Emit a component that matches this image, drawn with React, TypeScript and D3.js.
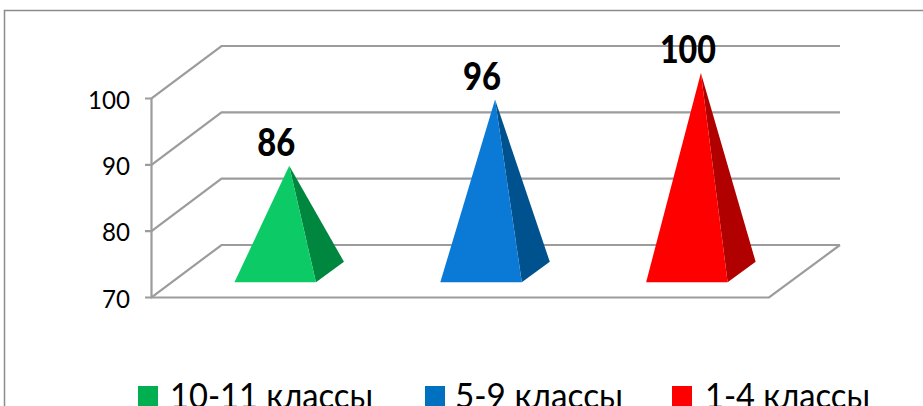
import React from "react";
import * as d3 from "d3";

const categories = ["10-11 классы", "5-9 классы", "1-4 классы"];
const values = [86, 96, 100];
const ticks = [70, 80, 90, 100];
const faceColors = ["#0ccb66", "#0b7ad6", "#ff0000"];
const sideColors = ["#00873f", "#00528f", "#b00000"];
const legendColors = ["#00b050", "#0070c0", "#ff0000"];
const legendSwatchX = [138, 425, 672];
const legendTextX = [170, 455, 705];
const legendTextW = [203, 168, 165];

const FONT = "Lato, 'Open Sans', sans-serif";
const GRID = "#9c9c9c";
const depthX = 70;
const depthY = -52.5;

const y = d3.scaleLinear().domain([70, 100]).range([297.5, 98.5]);
const x = d3.scaleBand<string>().domain(categories).range([152, 769.5]);

export default function App() {
  const line = d3.line();
  const bw = 81.5;
  return (
    <svg width={923} height={406} style={{ position: "fixed", left: 0, top: 0, background: "#fff" }}>
      <path d="M4.5 406V10.5H923" fill="none" stroke="#8c8c8c" strokeWidth={1.5} />
      {ticks.map((t) => (
        <g key={t}>
          <path
            d={line([[145, y(t)], [151.5, y(t)], [151.5 + depthX, y(t) + depthY], [840, y(t) + depthY]])!}
            fill="none" stroke={GRID} strokeWidth={2.2}
          />
          <text x={130} y={y(t) + 1} dy="0.36em" textAnchor="end" fontFamily={FONT} fontSize={25} textLength={t === 100 ? 42 : 28} lengthAdjust="spacingAndGlyphs" fill="#000">{t}</text>
        </g>
      ))}
      <path d={line([[151.5, y(100)], [151.5, y(70)], [769, y(70)], [840, y(70) + depthY]])!} fill="none" stroke={GRID} strokeWidth={2.2} />
      {categories.map((c, i) => {
        const cx = x(c)! + x.bandwidth() / 2;
        const l = cx + 0.29 * depthX - bw / 2;
        const r = l + bw;
        const front = y(70) + 0.29 * depthY;
        const backX = r + 0.4 * depthX;
        const backY = y(70) + 0.68 * depthY;
        const apexX = l + bw / 2 + 14;
        const apexY = y(values[i]) - 25.5;
        return (
          <g key={c}>
            <path d={line([[apexX, apexY], [r, front], [backX, backY]])! + "Z"} fill={sideColors[i]} />
            <path d={line([[apexX, apexY], [l, front], [r, front]])! + "Z"} fill={faceColors[i]} />
            <text x={apexX - 13} y={apexY - 10} textAnchor="middle" fontFamily={FONT} fontWeight={900} fontSize={38} fill="#000"
              textLength={values[i] === 100 ? 56 : 38} lengthAdjust="spacingAndGlyphs">{values[i]}</text>
          </g>
        );
      })}
      {categories.map((c, i) => (
        <g key={"l" + c}>
          <rect x={legendSwatchX[i]} y={386} width={20} height={20} fill={legendColors[i]} />
          <text x={legendTextX[i]} y={408} fontFamily={FONT} fontSize={35} fill="#000" textLength={legendTextW[i]} lengthAdjust="spacingAndGlyphs">{c}</text>
        </g>
      ))}
    </svg>
  );
}
